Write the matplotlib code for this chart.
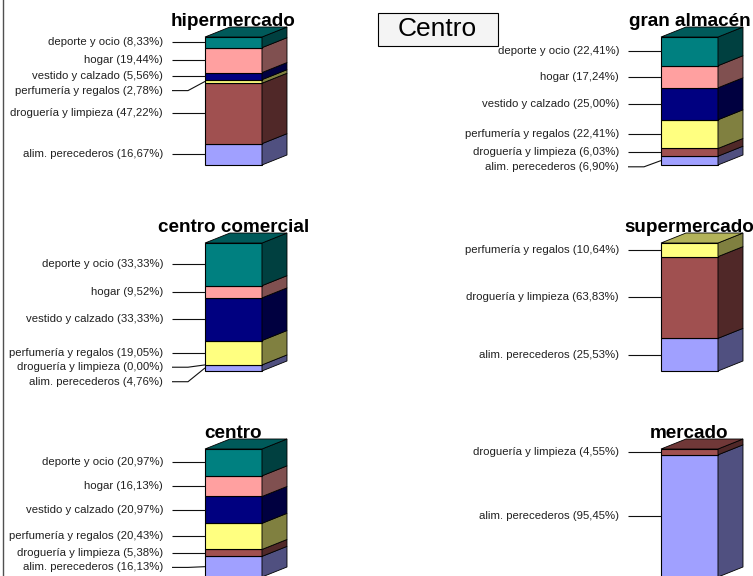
import matplotlib
matplotlib.use("Agg")
import matplotlib.pyplot as plt
from matplotlib.patches import Polygon, Rectangle
from matplotlib.lines import Line2D

plt.rcParams['font.family'] = ['Liberation Sans', 'DejaVu Sans']

# categories, bottom to top of each stack
categories = ['alim. perecederos', 'droguería y limpieza', 'perfumería y regalos',
              'vestido y calzado', 'hogar', 'deporte y ocio']
colors = ['#a0a0ff', '#a05050', '#ffff80', '#000080', '#ffa0a0', '#008080']

stores = ['hipermercado', 'gran almacén', 'centro comercial',
          'supermercado', 'centro', 'mercado']
hipermercado = [16.67, 47.22, 2.78, 5.56, 19.44, 8.33]
gran_almacen = [6.90, 6.03, 22.41, 25.00, 17.24, 22.41]
centro_comercial = [4.76, 0.00, 19.05, 33.33, 9.52, 33.33]
supermercado = [25.53, 63.83, 10.64, None, None, None]
centro = [16.13, 5.38, 20.43, 20.97, 16.13, 20.97]
mercado = [95.45, 4.55, None, None, None, None]
values = [hipermercado, gran_almacen, centro_comercial, supermercado, centro, mercado]

title = 'Centro'

W, H = 753, 576
fig = plt.figure(figsize=(W / 100, H / 100), dpi=100)
fig.patch.set_facecolor('white')

# layout (pixels)
bar_w, bar_h = 57, 128
dx_px, dy_px = 25, 10
lefts = [205, 661]
tops = [37, 243, 449]
xlim = (-3.7, 1.6)
ylim = (-22, 127)

ux = 1.0 / bar_w          # data units per px in x
uy = 100.0 / bar_h        # data units per px in y
dx, dy = dx_px * ux, dy_px * uy
gap = 14.5 * uy


def shade(c, f):
    r, g, b = matplotlib.colors.to_rgb(c)
    return (r * f, g * f, b * f)


for i, (store, vals) in enumerate(zip(stores, values)):
    L = lefts[i % 2]
    T = tops[i // 2]
    px0 = L + xlim[0] / ux
    px1 = L + xlim[1] / ux
    py_top = T - (ylim[1] - 100) / uy
    py_bot = T + bar_h + (0 - ylim[0]) / uy
    ax = fig.add_axes([px0 / W, 1 - py_bot / H, (px1 - px0) / W, (py_bot - py_top) / H])
    ax.set_xlim(*xlim)
    ax.set_ylim(*ylim)
    ax.axis('off')

    segs = []
    base = 0.0
    for cat, col, v in zip(categories, colors, vals):
        if v is None:
            continue
        segs.append((cat, col, v, base))
        base += v
    top = base

    for cat, col, v, y0 in segs:
        if v <= 0:
            continue
        y1 = y0 + v
        ax.add_patch(Rectangle((0, y0), 1, v, facecolor=col, edgecolor='black', lw=0.8))
        ax.add_patch(Polygon([(1, y0), (1 + dx, y0 + dy), (1 + dx, y1 + dy), (1, y1)],
                             closed=True, facecolor=shade(col, 0.5), edgecolor='black', lw=0.6))
    topcol = [s for s in segs if s[2] > 0][-1][1]
    ax.add_patch(Polygon([(0, top), (dx, top + dy), (1 + dx, top + dy), (1, top)],
                         closed=True, facecolor=shade(topcol, 0.7), edgecolor='black', lw=0.6))

    # labels, placed from the top down so they don't overlap
    prev = None
    for cat, col, v, y0 in reversed(segs):
        c = y0 + v / 2
        ly = c if prev is None else min(c, prev - gap)
        prev = ly
        txt = f"{cat} ({v:.2f}%)".replace('.', ',').replace('alim, ', 'alim. ')
        ax.text(-42 * ux, ly, txt, ha='right', va='center', fontsize=8.2, color='#202020')
        ax.plot([-33 * ux, -17 * ux, 0], [ly, ly, c], color='#101010', lw=0.8,
                solid_capstyle='butt')

    ax.text(0.5, 100 + 11 * uy, store, ha='center', va='baseline',
            fontsize=13.6, fontweight='bold', color='black')

# title box
fig.patches.append(Rectangle((378 / W, 1 - 46 / H), 120 / W, 33 / H,
                             transform=fig.transFigure, facecolor='#f4f4f4',
                             edgecolor='black', lw=0.8))
fig.text(437 / W, 1 - 29.5 / H, title, ha='center', va='center', fontsize=19)

# left border
fig.add_artist(Line2D([2.5 / W, 2.5 / W], [0, 1], transform=fig.transFigure,
                      color='#505050', lw=1))

fig.savefig('out.png', dpi=100)
